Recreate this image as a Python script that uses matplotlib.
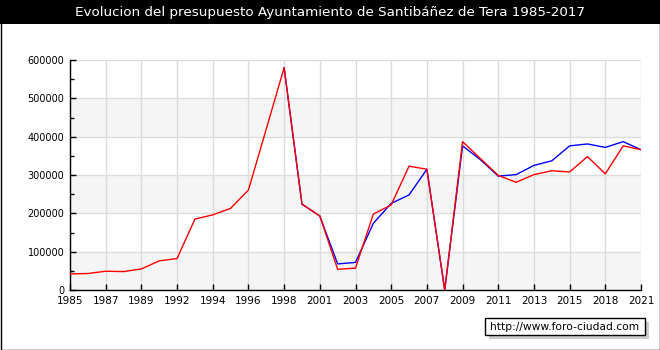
import numpy as np
import matplotlib
matplotlib.use('Agg')
from matplotlib import pyplot as plt
from matplotlib.patches import Rectangle

# datos (un punto por año, 1985-2017)
years = list(range(1985, 2018))
red_values = [42000, 43000, 49000, 48000, 55000, 76000, 82000, 185000, 196000, 213000,
              261000, 420000, 580000, 224000, 193000, 54000, 57000, 198000, 222000, 323000,
              315000, 0, 387000, 343000, 299000, 281000, 301000, 311000, 308000, 348000,
              303000, 376000, 366000]
blue_values = [np.nan] * 12 + [580000, 224000, 193000, 68000, 72000, 174000, 226000, 248000,
                               315000, 0, 376000, 340000, 297000, 301000, 325000, 337000,
                               376000, 381000, 372000, 387000, 366000]
tick_labels = ['1985', '1987', '1989', '1992', '1994', '1996', '1998', '2001', '2003',
               '2005', '2007', '2009', '2011', '2013', '2015', '2018', '2021']
y_ticks = [0, 100000, 200000, 300000, 400000, 500000, 600000]
title = 'Evolucion del presupuesto Ayuntamiento de Santibáñez de Tera 1985-2017'

W, H = 660, 350
fig = plt.figure(figsize=(W / 100, H / 100), dpi=100)
fig.patch.set_facecolor('white')

# barra negra del titulo y borde
fig.patches.append(Rectangle((0, 1 - 24 / H), 1, 24 / H, transform=fig.transFigure,
                             facecolor='black', edgecolor='none', zorder=0))
fig.patches.append(Rectangle((0.5 / W, 0.5 / H), 1 - 1 / W, 1 - 1 / H, transform=fig.transFigure,
                             facecolor='none', edgecolor='black', lw=1, zorder=5))
fig.text(0.5, 1 - 12.5 / H, title, color='white', ha='center', va='center', fontsize=9.7)

ax = fig.add_axes([70 / W, (H - 290) / H, 571 / W, 230 / H])
x = np.arange(len(years))

for lo in (0, 200000, 400000):
    ax.axhspan(lo, lo + 100000, color='#f5f5f5', zorder=0, lw=0)

ax.plot(x, blue_values, color='#0000ff', lw=1, zorder=3)
ax.plot(x, red_values, color='#ff0000', lw=1, zorder=4)

ax.set_xlim(0, len(years) - 1)
ax.set_ylim(0, 600000)
ax.set_xticks(x[::2])
ax.set_xticklabels(tick_labels)
ax.set_yticks(y_ticks)
ax.set_yticklabels([str(v) for v in y_ticks])
ax.set_yticks(np.arange(50000, 600000, 100000), minor=True)
ax.grid(True, color='#dcdcdc', lw=1, zorder=1)
ax.set_axisbelow(True)

for s in ('top', 'right'):
    ax.spines[s].set_visible(False)
for s in ('left', 'bottom'):
    ax.spines[s].set_color('black')
    ax.spines[s].set_linewidth(1)

ax.tick_params(axis='both', which='major', direction='in', length=4, width=1, labelsize=7.5, pad=4)
ax.tick_params(axis='y', which='minor', direction='in', length=3, width=1)
ax.tick_params(axis='y', labelsize=7)

# marca de agua
fig.patches.append(Rectangle((489 / W, 1 - 339 / H), 160 / W, 17 / H, transform=fig.transFigure,
                             facecolor='#cccccc', edgecolor='none', zorder=2))
fig.patches.append(Rectangle((485 / W, 1 - 335 / H), 160 / W, 17 / H, transform=fig.transFigure,
                             facecolor='white', edgecolor='black', lw=1, zorder=3))
fig.text(565 / W, 1 - 326.5 / H, 'http://www.foro-ciudad.com', ha='center', va='center',
         fontsize=7.7, zorder=4)

fig.savefig('out.png', dpi=100)
